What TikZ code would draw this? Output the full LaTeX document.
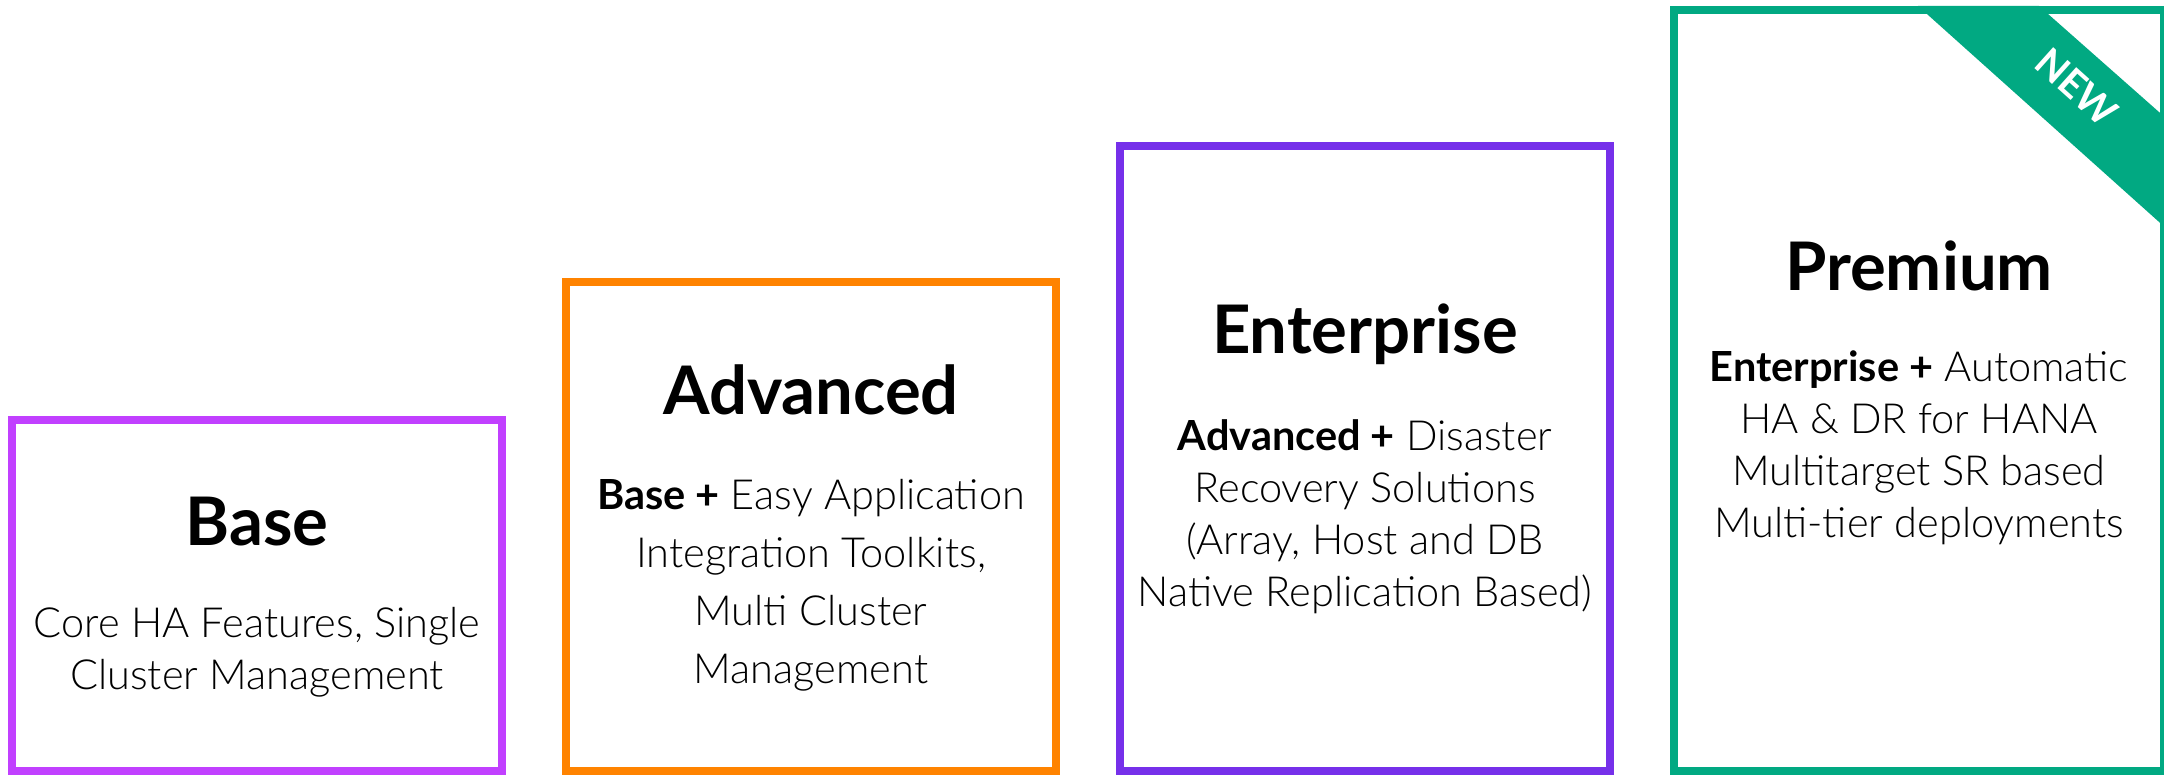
\documentclass[tikz,border=0pt]{standalone}
\usepackage{fontspec}
\setmainfont{Lato}
\newfontfamily\lightfont{Lato Light}
\newcommand\hb[1]{{\normalfont\bfseries #1}}
\definecolor{cbase}{HTML}{C140FF}
\definecolor{cadv}{HTML}{FF8300}
\definecolor{cent}{HTML}{7630EA}
\definecolor{cprem}{HTML}{01A982}
\begin{document}
\begin{tikzpicture}[x=1pt,y=-1pt,
  tier/.style={line width=8pt},
  ttl/.style={font=\fontsize{67}{76}\selectfont\bfseries, inner sep=0pt},
  body/.style={font=\fontsize{41.5}{52}\selectfont\lightfont, align=center, inner sep=0pt}]
\clip (0,0) rectangle (2164,775);
\fill[white] (0,0) rectangle (2164,775);
% ribbon
\fill[cprem] (1918,6) -- (2039,6) -- (2168,120) -- (2168,230) -- cycle;
\node[rotate=-41.9, text=white, font=\fontsize{39}{42}\selectfont\bfseries, inner sep=0pt] (new) at (2077,87) {NEW};
% boxes
\draw[tier, cbase] (12,420) rectangle (502,771);
\draw[tier, cadv] (566,282) rectangle (1056,771);
\draw[tier, cent] (1120,146) rectangle (1610,771);
\draw[tier, cprem] (1674,10) rectangle (2164,771);
% texts
\node[ttl] (tbase) at (257,522) {Base};
\node[body] (bbase) at (257,652) {Core HA Features, Single\\Cluster Management};
\node[ttl] (tadv) at (811,390) {Advanced};
\node[body, font=\fontsize{41.5}{58}\selectfont\lightfont] (badv) at (811,585) {\hb{Base +} Easy Application\\Integration Toolkits,\\Multi Cluster\\Management};
\node[ttl] (tent) at (1365,334) {Enterprise};
\node[body] (bent) at (1365,517) {\hb{Advanced +} Disaster\\Recovery Solutions\\(Array, Host and DB\\Native Replication Based)};
\node[ttl] (tprem) at (1919,266) {Premium};
\node[body] (bprem) at (1919,448) {\hb{Enterprise +} Automatic\\HA \& DR for HANA\\Multitarget SR based\\Multi-tier deployments};
\end{tikzpicture}
\end{document}
